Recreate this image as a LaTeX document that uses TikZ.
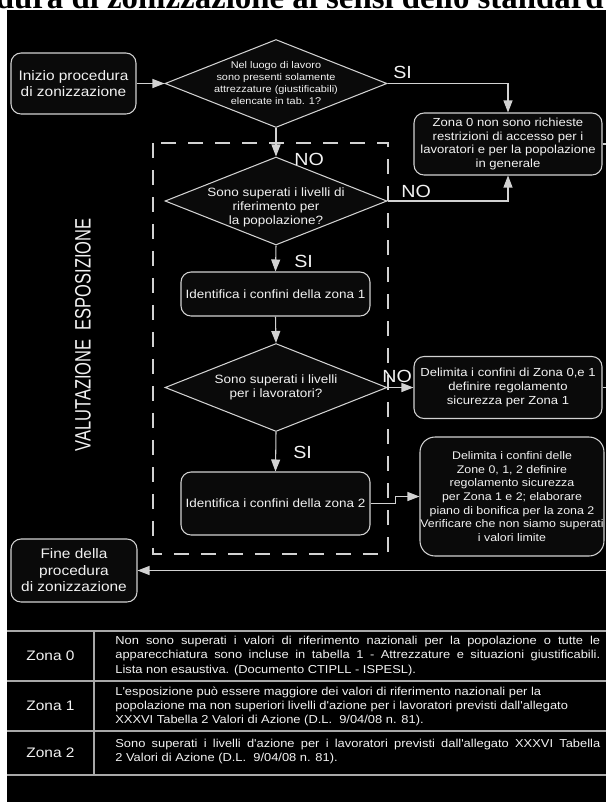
\documentclass[tikz,border=0pt]{standalone}
\usepackage{fontspec}
\usepackage{graphicx}
\usepackage{tikz}
\usetikzlibrary{shapes.geometric,arrows.meta}
\setmainfont{Liberation Serif}
\newfontfamily\zfont[FakeStretch=1.12]{Liberation Sans}
\newfontfamily\vfont{Liberation Sans}
\definecolor{ZLine}{HTML}{D2D2D2}
\definecolor{ZText}{HTML}{F2F2F2}
\definecolor{ZFill}{HTML}{0A0A0A}
\definecolor{ZGrid}{HTML}{A8A8A8}
\newcommand\jline[1]{\makebox[9.7cm][s]{#1}}

\begin{document}
\begin{tikzpicture}[x=0.02cm,y=-0.02cm,
  box/.style={draw=ZLine,fill=ZFill,line width=.6pt,rounded corners=0.2cm,text=ZText,align=center,inner sep=0pt},
  rhombus/.style={diamond,draw=ZLine,fill=ZFill,line width=.6pt,inner sep=0pt,minimum width=4.44cm,minimum height=1.76cm},
  txt/.style={text=ZText,align=center,inner sep=0pt},
  flow/.style={ZLine,line width=.6pt,-{Triangle[length=0.24cm,width=0.18cm]}},
  answer/.style={text=ZText,inner sep=0pt,anchor=south west,font=\zfont\fontsize{10}{11}\selectfont},
  tabline/.style={ZGrid,line width=.8pt}]
\path[use as bounding box] (0,0) rectangle (606,802);
\clip (0,0) rectangle (606,802);
\fill[white] (0,0) rectangle (606,802);
\node[anchor=base east,inner sep=0pt,font=\bfseries\fontsize{18.7}{20}\selectfont] (title) at (604,8) {dura di zonizzazione ai sensi dello standard};
\fill[black] (7,10) rectangle (606,802);
\draw[ZLine,line width=.6pt,dash pattern=on 0.3cm off 0.24cm] (153,143) rectangle (388,554);
\node[txt,rotate=90,font=\vfont\fontsize{9.4}{10}\selectfont] (valut) at (83,335) {\scalebox{1}[1.35]{VALUTAZIONE\ \ ESPOSIZIONE}};
% flow nodes
\node[box,minimum width=2.5cm,minimum height=1.22cm,font=\zfont\fontsize{7.85}{9.4}\selectfont] (start) at (73.5,83.5) {Inizio procedura\\di zonizzazione};
\node[rhombus] (d1) at (276,83.5) {};
\node[txt,font=\zfont\fontsize{5.55}{6.8}\selectfont] (d1txt) at (276,83) {Nel luogo di lavoro\\sono presenti solamente\\attrezzature (giustificabili)\\elencate in tab. 1?};
\node[box,minimum width=3.76cm,minimum height=1.24cm,font=\zfont\fontsize{6.65}{7.6}\selectfont] (zona0) at (508,144) {Zona 0 non sono richieste\\restrizioni di accesso per i\\lavoratori e per la popolazione\\in generale};
\node[rhombus] (d2) at (276,201) {};
\node[txt,font=\zfont\fontsize{6.85}{8}\selectfont] (d2txt) at (276,207) {Sono superati i livelli di\\riferimento per\\la popolazione?};
\node[box,minimum width=3.78cm,minimum height=0.88cm,font=\zfont\fontsize{6.85}{8}\selectfont] (zone1) at (275.5,294) {Identifica i confini della zona 1};
\node[rhombus] (d3) at (276,387.5) {};
\node[txt,font=\zfont\fontsize{6.85}{8}\selectfont] (d3txt) at (276,387) {Sono superati i livelli\\per i lavoratori?};
\node[box,minimum width=3.76cm,minimum height=1.24cm,font=\zfont\fontsize{6.65}{7.9}\selectfont] (delim1) at (508,387.5) {Delimita i confini di Zona 0,e 1\\definire regolamento\\sicurezza per Zona 1};
\node[box,minimum width=3.78cm,minimum height=1.26cm,font=\zfont\fontsize{6.85}{8}\selectfont] (zone2) at (275.5,503.5) {Identifica i confini della zona 2};
\node[box,rounded corners=0.3cm,minimum width=3.68cm,minimum height=2.38cm,font=\zfont\fontsize{6.3}{7.8}\selectfont] (delim2) at (512,496.5) {Delimita i confini delle\\Zone 0, 1, 2 definire\\regolamento sicurezza\\per Zona 1 e 2; elaborare\\piano di bonifica per la zona 2\\Verificare che non siamo superati\\i valori limite};
\node[box,minimum width=2.52cm,minimum height=1.26cm,font=\zfont\fontsize{7.85}{9.4}\selectfont] (fine) at (74,570.5) {Fine della\\procedura\\di zonizzazione};
\coordinate (edgeR) at (606,570.5);
% connectors
\draw[flow] (start.east) -- (d1.west);
\draw[flow] (d1.east) -| (zona0.north);
\draw[flow] (d1.south) -- (d2.north);
\draw[flow] (d2.east) -| (zona0.south);
\draw[flow] (d2.south) -- (zone1.north);
\draw[flow] (zone1.south) -- (d3.north);
\draw[flow] (d3.east) -- (delim1.west);
\draw[flow] (d3.south) -- (zone2.north);
\draw[flow] (zone2.east) -- ++(25,0) |- (delim2.west);
\draw[flow] (edgeR) -- (fine.east);
\draw[ZLine,line width=.6pt] (zona0.east) -- (zona0.east -| edgeR);
\draw[ZLine,line width=.6pt] (delim1.east) -- (delim1.east -| edgeR);
\node[answer] (siA) at (393,79) {SI};
\node[answer] (noA) at (294,166) {NO};
\node[answer] (noB) at (401,198) {NO};
\node[answer] (siB) at (294,268) {SI};
\node[answer] (noC) at (382,383) {NO};
\node[answer] (siC) at (293,459) {SI};
% table
\foreach \yy in {631,681,731,775} \draw[tabline] (7,\yy) -- (606,\yy);
\draw[tabline] (94,631) -- (94,775);
\node[txt,font=\zfont\fontsize{7.85}{9}\selectfont] (z0) at (50.5,656) {Zona 0};
\node[txt,font=\zfont\fontsize{7.85}{9}\selectfont] (z1) at (50.5,706) {Zona 1};
\node[txt,font=\zfont\fontsize{7.85}{9}\selectfont] (z2) at (50.5,753) {Zona 2};
\node[txt,anchor=west,align=left,font=\zfont\fontsize{6.55}{8}\selectfont] (z0txt) at (115,656) {\jline{Non sono superati i valori di riferimento nazionali per la popolazione o tutte le}\\\jline{apparecchiatura sono incluse in tabella 1 - Attrezzature e situazioni giustificabili.}\\Lista non esaustiva. (Documento CTIPLL - ISPESL).};
\node[txt,anchor=west,align=left,font=\zfont\fontsize{6.55}{8}\selectfont] (z1txt) at (115,706) {L'esposizione può essere maggiore dei valori di riferimento nazionali per la\\popolazione ma non superiori livelli d'azione per i lavoratori previsti dall'allegato\\XXXVI Tabella 2 Valori di Azione (D.L.\ \ 9/04/08 n. 81).};
\node[txt,anchor=west,align=left,font=\zfont\fontsize{6.55}{8}\selectfont] (z2txt) at (115,751.5) {\jline{Sono superati i livelli d'azione per i lavoratori previsti dall'allegato XXXVI Tabella}\\2 Valori di Azione (D.L.\ \ 9/04/08 n. 81).};
\end{tikzpicture}
\end{document}
